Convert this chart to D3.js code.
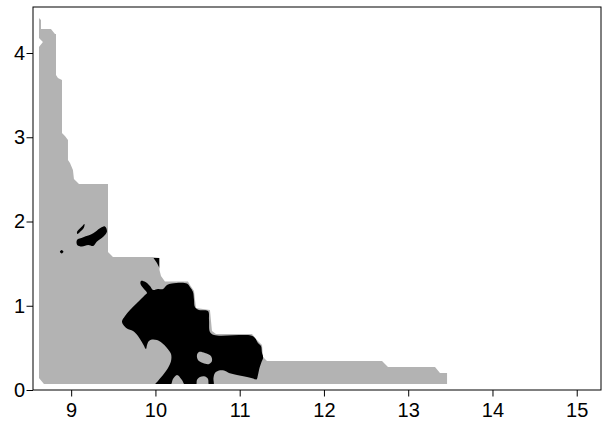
<!DOCTYPE html>
<html>
<head>
<meta charset="utf-8">
<script src="https://cdn.jsdelivr.net/npm/d3@7"></script>
<style>
  body { margin: 0; background: #fff; }
  svg { display: block; }
</style>
</head>
<body>
<div id="chart"></div>
<script>
// tick values
const xTicks = [9, 10, 11, 12, 13, 14, 15];
const yTicks = [0, 1, 2, 3, 4];

// outer (gray) level region, [x, y] in data units
const grayRegion = [
  [8.618, 4.415], [8.642, 4.392], [8.642, 4.285], [8.760, 4.285], [8.808, 4.226],
  [8.820, 4.226], [8.820, 3.739], [8.843, 3.703], [8.891, 3.680], [8.891, 3.050],
  [8.926, 3.015], [8.962, 2.967], [8.962, 2.730], [8.986, 2.694], [9.021, 2.611],
  [9.033, 2.504], [9.093, 2.445], [9.437, 2.445], [9.437, 1.638], [9.496, 1.579],
  [9.971, 1.579], [10.048, 1.567], [10.048, 1.424], [10.066, 1.353], [10.113, 1.288],
  [10.386, 1.288], [10.410, 1.246], [10.458, 1.175], [10.481, 0.973], [10.647, 0.950],
  [10.671, 0.700], [10.719, 0.665], [11.146, 0.665], [11.205, 0.593], [11.265, 0.534],
  [11.277, 0.392], [11.324, 0.344], [12.689, 0.344], [12.760, 0.273], [13.318, 0.273],
  [13.377, 0.202], [13.461, 0.202], [13.461, 0.071], [8.677, 0.071], [8.618, 0.142],
  [8.618, 4.071], [8.665, 4.131], [8.618, 4.178]
];

// inner (black) level regions
const blackMain = [
  [9.828, 1.294], [9.882, 1.282], [9.935, 1.234], [9.971, 1.187], [10.030, 1.199],
  [10.090, 1.199], [10.137, 1.246], [10.196, 1.264], [10.374, 1.264], [10.410, 1.223],
  [10.446, 1.163], [10.458, 1.068], [10.469, 0.985], [10.517, 0.950], [10.624, 0.938],
  [10.636, 0.831], [10.647, 0.688], [10.695, 0.653], [11.134, 0.647], [11.182, 0.617],
  [11.217, 0.558], [11.253, 0.522], [11.265, 0.439], [11.280, 0.392], [11.259, 0.332],
  [11.235, 0.261], [11.217, 0.178], [11.199, 0.125], [11.158, 0.137], [11.087, 0.154],
  [10.968, 0.178], [10.873, 0.202], [10.814, 0.231], [10.754, 0.231], [10.707, 0.202],
  [10.689, 0.142], [10.689, 0.060], [10.636, 0.060], [10.624, 0.131], [10.588, 0.160],
  [10.529, 0.154], [10.493, 0.119], [10.481, 0.060], [10.351, 0.060], [10.315, 0.119],
  [10.256, 0.178], [10.208, 0.131], [10.179, 0.060], [9.995, 0.060], [10.030, 0.107],
  [10.090, 0.178], [10.149, 0.261], [10.185, 0.344], [10.185, 0.427], [10.137, 0.499],
  [10.078, 0.558], [10.018, 0.593], [9.959, 0.599], [9.923, 0.582], [9.900, 0.534],
  [9.888, 0.487], [9.852, 0.546], [9.793, 0.641], [9.734, 0.700], [9.662, 0.730],
  [9.603, 0.807], [9.639, 0.878], [9.698, 0.950], [9.781, 1.033], [9.876, 1.128],
  [9.900, 1.151], [9.864, 1.199], [9.823, 1.258]
];
const blackWedge = [[9.977, 1.567], [10.048, 1.567], [10.048, 1.448], [10.018, 1.507]];
const blackBlobA = [
  [9.069, 1.780], [9.144, 1.812], [9.262, 1.860], [9.342, 1.919], [9.401, 1.941],
  [9.425, 1.881], [9.381, 1.820], [9.303, 1.760], [9.262, 1.709], [9.203, 1.721],
  [9.125, 1.703], [9.072, 1.721]
];
const blackSliver = [
  [9.069, 1.875], [9.128, 1.941], [9.158, 1.970], [9.152, 1.929], [9.104, 1.875], [9.075, 1.852]
];
const blackDot = [[8.866, 1.642], [8.887, 1.663], [8.908, 1.642], [8.887, 1.621]];
// gray hole inside the main black region
const grayHole = [
  [10.517, 0.451], [10.588, 0.439], [10.659, 0.404], [10.671, 0.344],
  [10.636, 0.309], [10.564, 0.320], [10.505, 0.356], [10.493, 0.415]
];

const W = 608, H = 424;
const margin = { top: 7, right: 7, bottom: 34, left: 33 };
const width = W - margin.left - margin.right,
  height = H - margin.top - margin.bottom;

const svg = d3.select('#chart').append('svg')
  .attr('width', W).attr('height', H);
const g = svg.append('g')
  .attr('transform', `translate(${margin.left},${margin.top})`);

const x = d3.scaleLinear().domain([8.547, 15.288]).range([0, width]);
const y = d3.scaleLinear().domain([0, 4.546]).range([height, 0]);

const straight = d3.line().x(d => x(d[0])).y(d => y(d[1]));
const smooth = d3.line().x(d => x(d[0])).y(d => y(d[1]))
  .curve(d3.curveCatmullRomClosed.alpha(0.5));

// clip black parts to the gray region
g.append('clipPath').attr('id', 'clipGray')
  .append('path').attr('d', straight(grayRegion) + 'Z');

g.append('path')
  .attr('d', straight(grayRegion) + 'Z')
  .attr('fill', '#b3b3b3');

const inner = g.append('g').attr('clip-path', 'url(#clipGray)');
[blackMain, blackBlobA, blackSliver, blackDot].forEach(poly => {
  inner.append('path').attr('d', smooth(poly)).attr('fill', '#000');
});
inner.append('path').attr('d', straight(blackWedge) + 'Z').attr('fill', '#000');
inner.append('path').attr('d', smooth(grayHole)).attr('fill', '#b3b3b3');

// frame
g.append('rect')
  .attr('x', 0).attr('y', 0).attr('width', width).attr('height', height)
  .attr('fill', 'none').attr('stroke', '#000').attr('stroke-width', 1);

// axes
const xAxis = g.append('g')
  .attr('transform', `translate(0,${height})`)
  .call(d3.axisBottom(x).tickValues(xTicks).tickFormat(d3.format('d')).tickSize(6.5).tickPadding(6));
const yAxis = g.append('g')
  .call(d3.axisLeft(y).tickValues(yTicks).tickFormat(d3.format('d')).tickSize(6.5).tickPadding(1.5));
[xAxis, yAxis].forEach(a => {
  a.select('.domain').remove();
  a.selectAll('.tick line').attr('stroke', '#000');
  a.selectAll('.tick text')
    .attr('fill', '#000')
    .style('font-family', '"Liberation Sans", Arial, sans-serif')
    .style('font-size', '20px');
});
</script>
</body>
</html>
